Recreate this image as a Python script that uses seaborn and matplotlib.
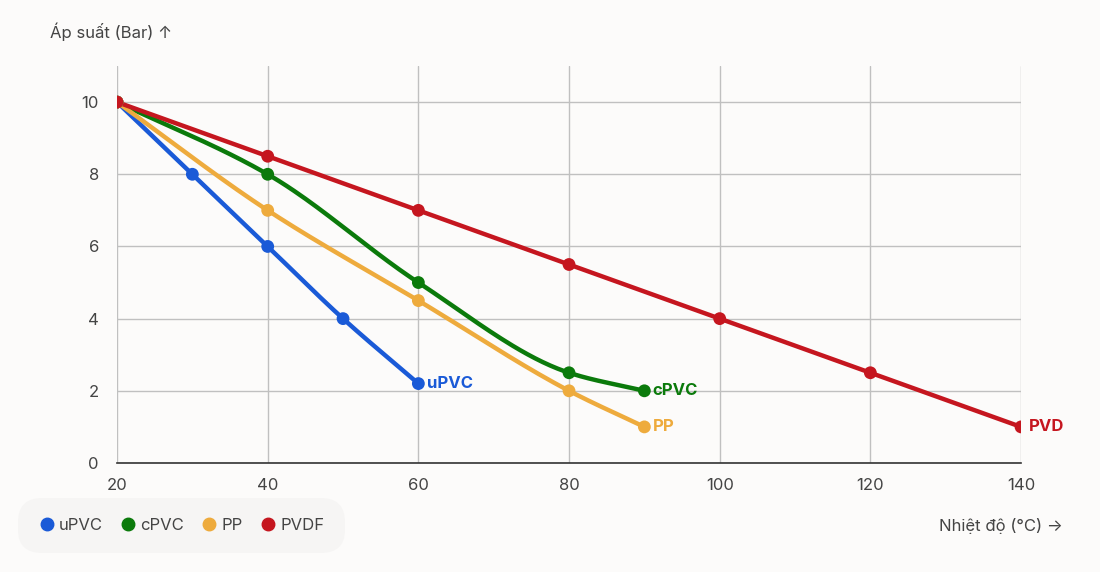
import numpy as np
import pandas as pd
import seaborn as sns
import matplotlib
matplotlib.use("Agg")
from matplotlib import pyplot as plt
from matplotlib.lines import Line2D

# data
upvc_x = [20, 30, 40, 50, 60]
upvc_y = [10, 8, 6, 4, 2.2]
cpvc_x = [20, 40, 60, 80, 90]
cpvc_y = [10, 8, 5, 2.5, 2]
pp_x = [20, 40, 60, 80, 90]
pp_y = [10, 7, 4.5, 2, 1]
pvdf_x = [20, 40, 60, 80, 100, 120, 140]
pvdf_y = [10, 8.5, 7, 5.5, 4, 2.5, 1]

series_names = ["uPVC", "cPVC", "PP", "PVDF"]
end_labels = ["uPVC", "cPVC", "PP", "PVD"]
colors = ["#1a5ad7", "#0b7a0b", "#eeab3d", "#c5161f"]
x_ticks = [20, 40, 60, 80, 100, 120, 140]
y_ticks = [0, 2, 4, 6, 8, 10]


def smooth(x, y, n=40):
    # monotone cubic hermite path through the points (line rendering only)
    x = np.asarray(x, float)
    y = np.asarray(y, float)
    h = np.diff(x)
    d = np.diff(y) / h
    m = np.zeros_like(y)
    m[0], m[-1] = d[0], d[-1]
    for i in range(1, len(y) - 1):
        if d[i - 1] * d[i] <= 0:
            m[i] = 0
        else:
            w1 = 2 * h[i] + h[i - 1]
            w2 = h[i] + 2 * h[i - 1]
            m[i] = (w1 + w2) / (w1 / d[i - 1] + w2 / d[i])
    xs, ys = [], []
    for i in range(len(x) - 1):
        t = np.linspace(0, 1, n, endpoint=(i == len(x) - 2))
        h00 = 2 * t**3 - 3 * t**2 + 1
        h10 = t**3 - 2 * t**2 + t
        h01 = -2 * t**3 + 3 * t**2
        h11 = t**3 - t**2
        xs.append(x[i] + t * h[i])
        ys.append(h00 * y[i] + h10 * h[i] * m[i] + h01 * y[i + 1] + h11 * h[i] * m[i + 1])
    return np.concatenate(xs), np.concatenate(ys)


sns.set_theme(style="white")
plt.rcParams["font.family"] = ["Inter", "DejaVu Sans"]

bg = "#fcfbfa"
fig = plt.figure(figsize=(11, 5.72), dpi=100, facecolor=bg)
ax = fig.add_axes([0.1064, 0.1906, 0.8218, 0.694])
ax.set_facecolor(bg)

frames = []
for name, xs, ys in zip(series_names, [upvc_x, cpvc_x, pp_x, pvdf_x],
                        [upvc_y, cpvc_y, pp_y, pvdf_y]):
    frames.append(pd.DataFrame({"temp": xs, "pressure": ys, "series": name}))
df = pd.concat(frames, ignore_index=True)
palette = dict(zip(series_names, colors))

for name in series_names:
    sub = df[df.series == name]
    sx, sy = smooth(sub.temp, sub.pressure)
    ax.plot(sx, sy, color=palette[name], lw=3.2, solid_capstyle="round", zorder=3)
sns.scatterplot(data=df, x="temp", y="pressure", hue="series", palette=palette,
                s=85, edgecolor="none", legend=False, ax=ax, zorder=4)

for name, lab in zip(series_names, end_labels):
    sub = df[df.series == name]
    ax.annotate(lab, (sub.temp.iloc[-1], sub.pressure.iloc[-1]), xytext=(6, 0),
                textcoords="offset points", va="center", ha="left",
                color=palette[name], fontsize=12, fontweight="bold", zorder=5)

ax.set_xlim(20, 140)
ax.set_ylim(0, 11)
ax.set_xticks(x_ticks)
ax.set_yticks(y_ticks)
ax.grid(True, color="#c0c0c0", lw=1)
ax.set_axisbelow(True)
for s in ["top", "right", "left"]:
    ax.spines[s].set_visible(False)
ax.spines["bottom"].set_color("#333333")
ax.spines["bottom"].set_linewidth(1.2)
ax.tick_params(axis="both", length=0, labelsize=12, labelcolor="#444444")
ax.tick_params(axis="x", pad=11)
ax.tick_params(axis="y", pad=13)
ax.set_xlabel("")
ax.set_ylabel("")

fig.text(0.045, 0.945, "Áp suất (Bar) ↑", fontsize=12, color="#444444",
         ha="left", va="center")
fig.text(0.966, 0.081, "Nhiệt độ (°C) →", fontsize=12, color="#444444",
         ha="right", va="center")

handles = [Line2D([], [], marker="o", ls="none", color=c, markersize=9)
           for c in colors]
leg = fig.legend(handles, series_names, loc="center left",
                 bbox_to_anchor=(0.012, 0.081), ncol=4, frameon=True,
                 fontsize=12, handletextpad=0.25, columnspacing=1.0,
                 borderpad=1.0, handlelength=1.0)
leg.get_frame().set_facecolor("#f5f4f3")
leg.get_frame().set_edgecolor("none")
leg.get_frame().set_boxstyle("round,pad=0.2,rounding_size=1.4")
for t in leg.get_texts():
    t.set_color("#444444")

fig.savefig("out.png", dpi=100, facecolor=bg)
